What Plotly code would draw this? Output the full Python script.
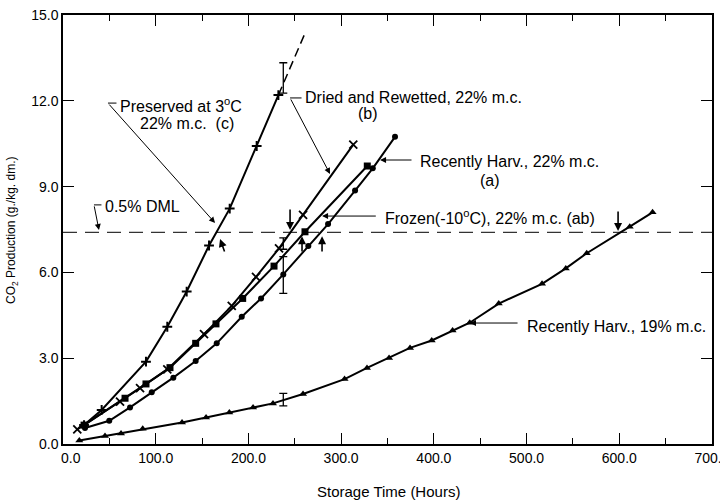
import plotly.graph_objects as go

# ---------------- data ----------------
# Recently Harv., 22% m.c. (a) - filled circles
a_x = [23.7, 49.9, 72.3, 95.7, 119.0, 143.1, 165.8, 192.8, 213.6, 237.6, 264.6, 285.9, 315.0, 334.1, 358.1]
a_y = [0.56, 0.81, 1.28, 1.81, 2.32, 2.90, 3.52, 4.45, 5.09, 5.93, 6.92, 7.69, 8.86, 9.64, 10.74]

# Dried and Rewetted, 22% m.c. (b) - x marks
b_x = [15.4, 61.5, 83.1, 112.5, 152.1, 182.0, 208.2, 233.0, 258.9, 313.1]
b_y = [0.51, 1.48, 1.95, 2.61, 3.84, 4.83, 5.84, 6.84, 8.01, 10.47]

# Frozen (-10 C), 22% m.c. (ab) - filled squares
c_x = [22.7, 66.9, 89.5, 115.4, 143.1, 165.0, 193.8, 227.6, 261.0, 328.2]
c_y = [0.66, 1.60, 2.10, 2.67, 3.52, 4.20, 5.09, 6.22, 7.42, 9.72]

# Preserved at 3 C, 22% m.c. (c) - plus marks
p_x = [22.7, 41.7, 89.5, 112.5, 133.4, 157.5, 179.8, 208.9, 232.3]
p_y = [0.66, 1.19, 2.88, 4.10, 5.33, 6.94, 8.23, 10.42, 12.20]
p_ext_x = [232.3, 261.0]
p_ext_y = [12.20, 14.36]

# Recently Harv., 19% m.c. - triangles
d_x = [17.6, 45.3, 62.6, 86.0, 128.4, 154.3, 179.4, 205.0, 226.5, 258.9, 303.7, 327.9,
       351.7, 374.3, 397.7, 420.2, 438.7, 470.0, 516.7, 542.3, 564.9, 611.3, 635.9]
d_y = [0.12, 0.28, 0.37, 0.53, 0.75, 0.93, 1.10, 1.28, 1.42, 1.75, 2.27, 2.66,
       3.01, 3.36, 3.62, 3.97, 4.24, 4.91, 5.60, 6.14, 6.67, 7.60, 8.10]

# error bars (at ~240 h)
err_x = [237.6, 237.6, 237.6, 237.6]
err_y = [12.80, 5.91, 7.01, 1.55]
err_half = [0.53, 0.64, 0.20, 0.22]

# 0.5% dry matter loss level
dml_x = [0, 700]
dml_y = [7.40, 7.40]

x_tickvals = [0, 100, 200, 300, 400, 500, 600, 700]
x_ticktext = ["\u00a0\u00a0\u00a0\u00a00.0", "100.0", "200.0", "300.0", "400.0", "500.0", "600.0", "700.0"]
y_tickvals = [0, 3, 6, 9, 12, 15]
y_ticktext = ["0.0", "3.0", "6.0", "9.0", "12.0", "15.0"]

FONT = "Liberation Sans, Arial, Helvetica, sans-serif"
BLK = "black"

fig = go.Figure()

line_style = dict(color=BLK, width=2)

fig.add_trace(go.Scatter(x=dml_x, y=dml_y, mode="lines",
                         line=dict(color="#333", width=1.3, dash="14px,8px"), hoverinfo="skip"))
fig.add_trace(go.Scatter(x=p_ext_x, y=p_ext_y, mode="lines",
                         line=dict(color=BLK, width=1.5, dash="9px,5px"), hoverinfo="skip"))
fig.add_trace(go.Scatter(x=p_x, y=p_y, mode="lines+markers", line=line_style,
                         marker=dict(symbol="cross-thin-open", size=7, line=dict(width=2, color=BLK))))
fig.add_trace(go.Scatter(x=b_x, y=b_y, mode="lines+markers", line=line_style,
                         marker=dict(symbol="x-thin-open", size=8, line=dict(width=1.8, color=BLK))))
fig.add_trace(go.Scatter(x=c_x, y=c_y, mode="lines+markers", line=line_style,
                         marker=dict(symbol="square", size=7, color=BLK)))
fig.add_trace(go.Scatter(x=a_x, y=a_y, mode="lines+markers", line=line_style,
                         marker=dict(symbol="circle", size=6, color=BLK)))
fig.add_trace(go.Scatter(x=d_x, y=d_y, mode="lines+markers", line=line_style,
                         marker=dict(symbol="triangle-up", size=7, color=BLK)))
fig.add_trace(go.Scatter(x=err_x, y=err_y, mode="markers",
                         marker=dict(size=1, color="rgba(0,0,0,0)"),
                         error_y=dict(type="data", array=err_half, visible=True,
                                      width=4, thickness=1.3, color=BLK)))

ann = []
TF = dict(family=FONT, size=16, color=BLK)


def txt(x, y, s, xanchor="left"):
    ann.append(dict(x=x, y=y, xref="x", yref="y", text=s, showarrow=False,
                    xanchor=xanchor, yanchor="middle", font=TF))


def arrow(tx, ty, hx, hy, w=1.0, head=2, size=1.2):
    ann.append(dict(x=hx, y=hy, ax=tx, ay=ty, xref="x", yref="y", axref="x", ayref="y",
                    text="", showarrow=True, arrowhead=head, arrowsize=size,
                    arrowwidth=w, arrowcolor=BLK, standoff=0, startstandoff=0))


def seg(x0, y0, x1, y1, w=1.0):
    ann.append(dict(x=x1, y=y1, ax=x0, ay=y0, xref="x", yref="y", axref="x", ayref="y",
                    text="", showarrow=True, arrowhead=0, arrowwidth=w, arrowcolor=BLK))


# Preserved at 3 C
txt(59.3, 11.85, "Preserved at 3<sup>o</sup>C")
txt(80.9, 11.22, "22% m.c.  (c)")
seg(59.3, 11.92, 48.5, 11.92)
arrow(48.5, 11.92, 164.0, 7.73)

# Dried and Rewetted
txt(258.9, 12.10, "Dried and Rewetted, 22% m.c.")
txt(329.0, 11.55, "(b)", xanchor="center")
seg(258.9, 12.10, 244.9, 12.10)
arrow(244.9, 12.10, 288.0, 9.44)

# Recently Harv., 22%
txt(383.0, 9.88, "Recently Harv., 22% m.c.")
txt(460.6, 9.23, "(a)", xanchor="center")
arrow(377.5, 9.93, 342.0, 9.93)

# Frozen
txt(345.2, 7.94, "Frozen(-10<sup>o</sup>C), 22% m.c. (ab)")
arrow(339.0, 7.97, 279.4, 7.97)

# Recently Harv., 19%
txt(498.4, 4.12, "Recently Harv., 19% m.c.")
arrow(491.9, 4.23, 439.0, 4.23)

# 0.5% DML
txt(43.1, 8.32, "0.5% DML")
seg(43.1, 8.36, 33.4, 8.36)
arrow(33.4, 8.36, 38.8, 7.48)

# crossing arrows at DML
arrow(174.8, 6.68, 169.4, 7.17, w=1.6, size=1.0)
arrow(244.9, 8.25, 244.9, 7.48, w=1.6, size=1.0)
arrow(257.8, 6.68, 257.8, 7.26, w=1.6, size=1.0)
arrow(279.4, 6.68, 279.4, 7.26, w=1.6, size=1.0)
arrow(598.7, 8.18, 598.7, 7.45, w=1.6, size=1.0)

# axis titles
ann.append(dict(x=0.502, y=-0.1096, xref="paper", yref="paper", text="Storage Time (Hours)",
                showarrow=False, xanchor="center", yanchor="middle",
                font=dict(family=FONT, size=15, color=BLK)))
ann.append(dict(x=-0.0786, y=0.499, xref="paper", yref="paper",
                text="CO<sub>2</sub> Production (g./kg. dm.)", textangle=-90,
                showarrow=False, xanchor="center", yanchor="middle",
                font=dict(family=FONT, size=12, color=BLK)))

axis_common = dict(showline=True, linecolor=BLK, linewidth=1.5, mirror="ticks",
                   ticks="inside", tickcolor=BLK, tickwidth=1.3, showgrid=False,
                   zeroline=False, tickfont=dict(family=FONT, size=14, color=BLK),
                   ticklabeloverflow="allow", automargin=False)

fig.update_layout(
    width=720, height=500,
    margin=dict(l=63, r=8, t=15, b=56, autoexpand=False),
    paper_bgcolor="white", plot_bgcolor="white",
    showlegend=False,
    annotations=ann,
    xaxis=dict(range=[0, 700], tickvals=x_tickvals, ticktext=x_ticktext, ticklen=11,
               minor=dict(dtick=50, ticks="inside", ticklen=6, tickcolor=BLK, tickwidth=1.3),
               **axis_common),
    yaxis=dict(range=[0, 15], tickvals=y_tickvals, ticktext=y_ticktext, ticklen=11,
               **axis_common),
)

fig.write_html("out.html", config={"displayModeBar": False},
               post_script="document.body.style.margin='0';document.body.style.padding='0';")
